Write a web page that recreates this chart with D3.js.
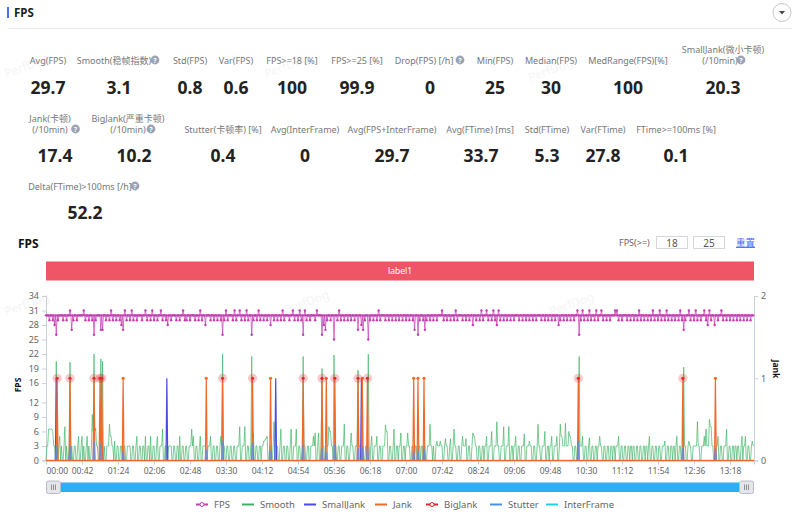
<!DOCTYPE html>
<html>
<head>
<meta charset="utf-8">
<script src="https://cdn.jsdelivr.net/npm/d3@7"></script>
<style>
body { margin: 0; background: #fff; }
svg { display: block; font-family: "Noto Sans", "Noto Sans CJK SC", sans-serif; }
</style>
</head>
<body>
<div id="chart"></div>
<script>
// one sample per second, one row = 42s
var fpsValues = [
30,30,30,30,29,30,30,30,29,30,28,30,26,30,29,30,30,30,30,30,29,30,30,30,29,30,30,30,31,30,27,30,29,30,30,30,29,30,30,30,30,30,
30,30,31,30,29,30,30,30,29,30,30,30,29,30,26,30,29,30,30,30,30,30,27,30,27,30,30,30,29,30,30,30,29,30,31,30,29,30,30,30,29,30,
30,30,29,30,28,30,27,30,31,30,29,30,30,30,29,30,31,30,29,30,30,30,29,30,30,30,30,30,29,30,30,30,31,30,29,30,30,30,29,30,31,30,
29,30,30,30,29,30,30,30,31,30,29,30,30,30,29,30,28,30,30,30,29,30,30,30,30,30,29,30,30,30,29,30,30,30,31,30,29,30,29,30,30,30,
29,30,30,30,30,30,29,30,30,30,29,30,31,30,29,30,30,30,28,30,30,30,30,30,29,30,30,30,29,30,30,30,29,30,30,30,29,30,26,30,29,30,
31,30,29,30,30,30,30,30,29,30,31,30,29,30,30,30,31,30,29,30,30,30,29,30,31,30,29,30,30,30,26,30,29,30,30,30,29,30,31,30,29,30,
30,30,29,30,30,30,29,30,30,30,28,30,30,30,29,30,30,30,29,30,30,30,29,30,31,30,29,30,30,30,30,30,29,30,30,30,31,30,29,30,30,30,
29,30,31,30,29,30,26,30,31,30,29,30,30,30,29,30,30,30,30,30,29,30,31,30,30,30,30,30,26,30,28,30,27,30,29,30,30,30,29,30,30,30,
25,30,30,30,29,30,31,30,29,30,30,30,29,30,30,30,29,30,30,30,29,30,30,30,29,30,30,30,27,30,30,30,28,30,27,30,29,30,30,30,25,30,
29,30,30,30,29,30,30,30,29,30,31,30,29,30,30,30,30,30,29,30,30,30,29,30,30,30,29,30,30,30,29,30,30,30,29,30,30,30,29,30,30,30,
29,30,30,30,29,30,30,30,29,30,27,30,30,30,26,30,29,30,30,30,29,30,27,30,29,30,30,30,29,30,30,30,29,30,30,30,29,30,30,30,30,30,
31,30,29,30,30,30,29,30,30,30,29,30,30,30,29,30,31,30,29,30,30,30,30,30,29,30,30,30,29,30,30,30,29,30,30,30,28,30,30,30,29,30,
30,30,29,30,31,30,29,30,30,30,31,30,29,30,30,30,29,30,31,30,29,30,28,30,31,30,29,30,30,30,29,30,30,30,29,30,30,30,29,30,30,30,
29,30,30,30,30,30,29,30,30,30,29,30,30,30,29,30,30,30,29,30,30,30,29,30,30,30,29,30,30,30,30,30,29,30,30,30,29,30,30,30,29,30,
30,30,29,30,30,30,29,30,30,30,28,30,29,30,30,30,29,30,30,30,29,30,30,30,29,30,30,30,29,30,30,30,31,30,26,30,29,30,31,30,29,30,
30,30,29,30,31,30,29,30,30,30,29,30,31,30,29,30,30,30,31,30,29,30,30,30,29,30,30,30,29,30,30,30,30,30,31,30,31,30,29,30,30,30,
29,30,30,30,30,30,29,30,30,30,29,30,30,30,29,30,30,30,29,30,31,30,29,30,30,30,29,30,30,30,29,30,30,30,29,30,31,30,29,30,30,30,
29,30,31,30,29,30,30,30,29,30,31,30,29,30,30,30,29,30,30,30,29,30,30,30,29,30,31,30,29,30,27,30,29,30,30,30,31,30,29,30,30,30,
29,30,31,30,29,30,30,30,29,30,30,30,31,30,29,30,28,30,31,30,29,30,30,30,28,30,30,30,29,30,30,30,31,30,29,30,30,30,29,30,30,30,
29,30,30,30,29,30,30,30,29,30,30,30,29,30,30,30,29,30,30,30,29,30,30,30,29,30,30,30
];
var smoothValues = [
0,3,3,6.5,6.5,6.5,6.5,6.5,6,3,3,0,20.5,0,0,3,5,0,3,0,0,3,7,0,3,0,0,3,20.3,0,3,0,0,3,3,0,0,3,5,0,0,3,
5,0,3,0,0,3,5,0,3,0,0,3,9.5,6,22,6,6.7,3,3,0,0,3,21,3,20.5,0,3,0,0,3,3,3,7.5,5,5,3,3,0,4,0,0,3,
3,0,0,3,3,0,0,3,3,0,0,3,3,3,3,0,0,3,3,0,0,3,5,0,0,3,3,0,0,3,3,0,5,0,0,3,3,0,5,0,0,3,
3,0,0,3,5,0,0,3,3,3,6.5,0,0,3,3,0,0,3,3,3,3,0,0,3,3,0,0,3,3,0,5,0,0,3,3,0,0,3,3,0,0,3,
3,3,6.5,3,5,0,0,3,3,0,0,3,5,0,0,3,3,3,3,0,0,3,3,3,5,0,0,3,3,0,0,3,3,0,0,3,5,3,22,3,3,0,
0,3,3,0,0,3,3,0,0,3,3,0,0,3,3,3,7,0,0,3,3,3,7,0,0,3,3,0,0,3,21.5,3,5.7,0,0,3,3,0,0,3,3,0,
3,3,4,4,4.5,4.5,5,0,0,3,3,0,0,3,8,0,0,3,3,0,0,3,6.5,0,0,3,3,0,0,3,3,0,0,3,6.5,0,0,3,3,3,6.5,0,
0,3,3,0,0,3,21.5,3,3,0,0,3,3,0,0,3,3,3,5,3,5.7,0,0,3,5.7,0,0,3,19,3,3,0,0,3,3,3,7,6,6,3,3,0,
21.8,3,3,0,0,3,3,0,0,3,3,3,7.5,0,0,3,3,0,0,3,5.7,3,3,0,0,3,3,3,18.7,3,3,0,0,3,3,0,0,3,3,3,22,3,
0,3,5,0,0,3,3,3,5,0,0,3,3,0,0,3,3,3,7.3,6,6,0,0,3,3,0,0,3,6.5,0,0,3,3,0,3,3,5.7,0,0,3,3,0,
3,3,5.7,3,3,0,0,3,3,0,0,3,3,0,0,3,3,0,3,3,0,3,3,0,0,3,3,3,7.5,3,3,0,3,0,0,3,4,3,3,3,4,3,
3,0,0,3,4.5,3,3,0,0,3,4.5,0,0,3,6.5,3,3,0,0,3,3,0,0,3,5,3,3,3,4.5,0,0,3,3,0,0,3,5.7,5,5,3,3,0,
0,3,3,0,0,3,3,0,3,3,5,0,0,3,3,3,6,0,0,3,3,3,8,3,3,0,0,3,3,3,7,0,0,3,3,3,7,0,0,3,3,0,
3,3,5,0,0,3,3,0,0,3,3,3,5.5,0,0,3,3,3,4,3,3,0,0,3,3,0,0,3,7.5,3,3,0,0,3,3,3,6,0,0,3,3,0,
3,3,5,0,0,3,3,3,5,0,0,3,7.5,5,5,3,3,3,7.7,3,3,3,6,5,5,3,3,0,0,3,3,0,0,3,21.5,3,3,3,5,0,0,3,
3,0,0,3,4.7,0,0,3,3,0,0,3,3,0,3,3,5,3,3,0,0,3,3,0,0,3,3,0,0,3,3,0,3,3,0,3,3,3,5,0,0,3,
3,0,0,3,3,0,0,3,3,0,3,3,0,3,3,0,0,3,3,0,0,3,3,0,0,3,3,0,3,3,0,3,5,0,0,3,3,0,0,3,3,0,
0,3,3,0,0,3,3,3,4,0,0,3,3,0,0,3,3,0,3,3,0,3,5,0,0,3,3,0,0,3,19.3,3,3,0,0,3,4,3,3,0,0,3,
3,3,3,3,8,3,3,0,0,3,3,3,5,3,6.5,3,3,3,8.5,7,7,3,3,0,0,3,3,3,5,0,0,3,3,0,0,3,3,3,6.5,0,0,3,
3,0,0,3,3,0,3,3,0,3,3,0,0,3,5,0,3,3,5,0,0,3,3,0,0,3,4,3
];
// seconds at which each jank type fired, all of them reach 1 on the right axis
var smallJankTimes = [12, 141, 268, 368];
var jankTimes = [90, 187, 262, 327, 369, 429, 434, 441, 781];
var bigJankTimes = [13, 28, 56, 63, 65, 206, 241, 300, 322, 337, 364, 375, 621, 743];
var stutterTimes = [12, 28, 56, 64, 90, 187, 206, 241, 262, 300, 322, 327, 337, 364, 369, 375, 429, 434, 441, 621, 743, 781];
var stutterValues = [3, 3, 4, 3.5, 2, 2.3, 4, 3.5, 2, 3.3, 2.5, 1.8, 3.3, 2.5, 2.5, 3, 2, 2, 2.3, 4, 2.7, 2.5];

var fpsTicks = [0, 3, 6, 9, 12, 16, 19, 22, 25, 28, 31, 34];
var jankTicks = [0, 1, 2];
var timeTicks = [0, 42, 84, 126, 168, 210, 252, 294, 336, 378, 420, 462, 504, 546, 588, 630, 672, 714, 756, 798];

var metricNames = ["Avg(FPS)", "Smooth(稳帧指数)", "Std(FPS)", "Var(FPS)", "FPS>=18 [%]", "FPS>=25 [%]", "Drop(FPS) [/h]", "Min(FPS)", "Median(FPS)", "MedRange(FPS)[%]", "(/10min)",
    "(/10min)", "(/10min)", "Stutter(卡顿率) [%]", "Avg(InterFrame)", "Avg(FPS+InterFrame)", "Avg(FTime) [ms]", "Std(FTime)", "Var(FTime)", "FTime>=100ms [%]",
    "Delta(FTime)>100ms [/h]"];
var metricValues = ["29.7", "3.1", "0.8", "0.6", "100", "99.9", "0", "25", "30", "100", "20.3",
    "17.4", "10.2", "0.4", "0", "29.7", "33.7", "5.3", "27.8", "0.1",
    "52.2"];
var metricLabelX = [48, 114, 190, 236, 292, 357, 424, 495, 551, 628, 720,
    50, 128, 223, 305, 392, 480, 547, 603, 676,
    80];
var metricValueX = [48, 119, 190, 236, 292, 357, 430, 495, 551, 628, 723,
    55, 134, 223, 305, 392, 481, 547, 603, 676,
    85];
var metricRowY = [64, 64, 64, 64, 64, 64, 64, 64, 64, 64, 64,
    132.5, 132.5, 132.5, 132.5, 132.5, 132.5, 132.5, 132.5, 132.5,
    189.5];
var valueRowY = [93.5, 93.5, 93.5, 93.5, 93.5, 93.5, 93.5, 93.5, 93.5, 93.5, 93.5,
    162, 162, 162, 162, 162, 162, 162, 162, 162,
    219];
var helpIcons = [[155, 60], [460, 60], [741, 60], [75.5, 129], [151, 129], [135, 186]];

var legendNames = ["FPS", "Smooth", "SmallJank", "Jank", "BigJank", "Stutter", "InterFrame"];
var legendColors = ["#c53db5", "#3cb563", "#4b4be6", "#f0692b", "#e5262a", "#4a90f0", "#1fd0e8"];
var legendX = [196, 242, 304, 375, 426, 490, 546];

var width = 800, height = 514;
var plotLeft = 46, plotRight = 754, plotTop = 296, plotBottom = 460.5;

var svg = d3.select("#chart").append("svg").attr("width", width).attr("height", height);

var x = d3.scaleLinear().domain([0, 826]).range([plotLeft, plotRight]);
var yFps = d3.scaleLinear().domain([0, 34]).range([plotBottom, plotTop]);
var yJank = d3.scaleLinear().domain([0, 2]).range([plotBottom, plotTop]);

function fmtTime(s) {
    return d3.format("02d")(Math.floor(s / 60)) + ":" + d3.format("02d")(s % 60);
}

function helpIcon(p) {
    svg.append("circle").attr("cx", p[0]).attr("cy", p[1]).attr("r", 4.4).attr("fill", "#9aa3b5");
    svg.append("text").attr("x", p[0]).attr("y", p[1] + 2.5).attr("text-anchor", "middle")
        .attr("font-size", 7).attr("font-weight", "bold").attr("fill", "#fff").text("?");
}

// watermarks
[[28, 70], [288, 70], [552, 74], [28, 308], [308, 306], [573, 308]].forEach(function (p) {
    svg.append("text").attr("transform", "translate(" + p[0] + "," + p[1] + ") rotate(-20)")
        .attr("text-anchor", "middle").attr("font-size", 12).attr("fill", "#000").attr("opacity", 0.04).text("PerfDog");
});

// header
svg.append("rect").attr("x", 7).attr("y", 7).attr("width", 2).attr("height", 11).attr("fill", "#4a6cf7");
svg.append("text").attr("x", 14).attr("y", 16.5).attr("font-size", 11.5).attr("font-weight", "bold").attr("fill", "#222").text("FPS");
svg.append("line").attr("x1", 8).attr("x2", 792).attr("y1", 28.5).attr("y2", 28.5).attr("stroke", "#e8eaf0");
svg.append("circle").attr("cx", 782).attr("cy", 12.5).attr("r", 9).attr("fill", "#fff").attr("stroke", "#c4c8d4");
svg.append("path").attr("d", "M779,11 L785,11 L782,14.5 Z").attr("fill", "#444");

// metric block
metricNames.forEach(function (name, i) {
    svg.append("text").attr("x", metricLabelX[i]).attr("y", metricRowY[i]).attr("text-anchor", "middle")
        .attr("font-size", 9).attr("fill", "#777").text(name);
    svg.append("text").attr("x", metricValueX[i]).attr("y", valueRowY[i]).attr("text-anchor", "middle")
        .attr("font-size", 17.5).attr("font-weight", "bold").attr("fill", "#222").text(metricValues[i]);
});
// two line labels
svg.append("text").attr("x", 723).attr("y", 53).attr("text-anchor", "middle").attr("font-size", 9).attr("fill", "#777").text("SmallJank(微小卡顿)");
svg.append("text").attr("x", 50).attr("y", 121.5).attr("text-anchor", "middle").attr("font-size", 9).attr("fill", "#777").text("Jank(卡顿)");
svg.append("text").attr("x", 128).attr("y", 121.5).attr("text-anchor", "middle").attr("font-size", 9).attr("fill", "#777").text("BigJank(严重卡顿)");
helpIcons.forEach(helpIcon);

// chart header
svg.append("text").attr("x", 18).attr("y", 248).attr("font-size", 12).attr("font-weight", "bold").attr("fill", "#111").text("FPS");
svg.append("text").attr("x", 619).attr("y", 246).attr("font-size", 9).attr("fill", "#666").text("FPS(>=)");
[[656, "18"], [693, "25"]].forEach(function (b) {
    svg.append("rect").attr("x", b[0] + 0.5).attr("y", 236.5).attr("width", 31).attr("height", 12).attr("fill", "#fff").attr("stroke", "#d4d7de");
    svg.append("text").attr("x", b[0] + 16).attr("y", 246.5).attr("text-anchor", "middle").attr("font-size", 10).attr("fill", "#555").text(b[1]);
});
svg.append("text").attr("x", 736).attr("y", 246).attr("font-size", 9.5).attr("fill", "#4a6cf7").attr("text-decoration", "underline").text("重置");

// label band
svg.append("rect").attr("x", plotLeft).attr("y", 261.5).attr("width", plotRight - plotLeft).attr("height", 19).attr("fill", "#ee5565");
svg.append("text").attr("x", (plotLeft + plotRight) / 2).attr("y", 274).attr("text-anchor", "middle").attr("font-size", 8.5).attr("fill", "#fff").text("label1");

// axes
function styleAxis(g) {
    g.selectAll("path, line").attr("stroke", "#c8cfdc");
    g.selectAll("text").attr("fill", "#666").attr("font-size", 9)
        .attr("font-family", '"Noto Sans", sans-serif');
}
svg.append("g").attr("transform", "translate(" + plotLeft + ",0)")
    .call(d3.axisLeft(yFps).tickValues(fpsTicks).tickSize(4).tickPadding(3).tickFormat(d3.format("d")))
    .call(styleAxis);
svg.append("g").attr("transform", "translate(" + plotRight + ",0)")
    .call(d3.axisRight(yJank).tickValues(jankTicks).tickSize(4).tickPadding(3).tickFormat(d3.format("d")))
    .call(styleAxis);
var xAxis = svg.append("g").attr("transform", "translate(0," + plotBottom + ")")
    .call(d3.axisBottom(x).tickValues(timeTicks).tickSize(4).tickPadding(3).tickFormat(fmtTime))
    .call(styleAxis);
xAxis.selectAll("text").attr("font-size", 8.5);
xAxis.selectAll("text").filter(function (d) { return d === 0; }).attr("text-anchor", "start");

svg.append("text").attr("transform", "translate(21,385) rotate(-90)").attr("text-anchor", "middle")
    .attr("font-size", 8.5).attr("font-weight", "bold").attr("fill", "#111").text("FPS");
svg.append("text").attr("transform", "translate(773,369) rotate(90)").attr("text-anchor", "middle")
    .attr("font-size", 8.5).attr("font-weight", "bold").attr("fill", "#111").text("Jank");

// series
var seriesLine = d3.line().x(function (d) { return x(d[0]); }).y(function (d) { return d[1]; });

function spikes(times, heights, scale) {
    var pts = [[0, scale(0)]];
    times.forEach(function (t, i) {
        var h = heights ? heights[i] : 1;
        pts.push([t - 1, scale(0)], [t, scale(h)], [t + 1, scale(0)]);
    });
    pts.push([826, scale(0)]);
    return pts;
}

svg.append("path").attr("fill", "none").attr("stroke", "#3cb563").attr("stroke-width", 0.9).attr("stroke-opacity", 0.75)
    .attr("d", seriesLine(smoothValues.map(function (v, i) { return [i, yFps(v)]; })));

svg.append("path").attr("fill", "none").attr("stroke", "#4b4be6").attr("stroke-width", 1.2)
    .attr("d", seriesLine(spikes(smallJankTimes, null, yJank)));
svg.append("path").attr("fill", "none").attr("stroke", "#f0692b").attr("stroke-width", 1.2)
    .attr("d", seriesLine(spikes(jankTimes.concat(bigJankTimes).sort(d3.ascending), null, yJank)));
svg.append("path").attr("fill", "none").attr("stroke", "#4a90f0").attr("stroke-width", 1.6).attr("stroke-opacity", 0.75)
    .attr("d", seriesLine(spikes(stutterTimes, stutterValues, yFps)));
svg.append("line").attr("x1", plotLeft).attr("x2", plotRight).attr("y1", plotBottom).attr("y2", plotBottom)
    .attr("stroke", "#f0692b").attr("stroke-width", 1.2);

svg.selectAll(".jank-dot").data(jankTimes).enter().append("circle").attr("class", "jank-dot")
    .attr("cx", function (d) { return x(d); }).attr("cy", yJank(1)).attr("r", 1.6).attr("fill", "#f0692b");
svg.selectAll(".big-halo").data(bigJankTimes).enter().append("circle").attr("class", "big-halo")
    .attr("cx", function (d) { return x(d); }).attr("cy", yJank(1)).attr("r", 4.6).attr("fill", "#e5262a").attr("fill-opacity", 0.25);
svg.selectAll(".big-dot").data(bigJankTimes).enter().append("circle").attr("class", "big-dot")
    .attr("cx", function (d) { return x(d); }).attr("cy", yJank(1)).attr("r", 1.6).attr("fill", "#e5262a");

svg.append("path").attr("fill", "none").attr("stroke", "#c53db5").attr("stroke-width", 0.9).attr("stroke-opacity", 0.8)
    .attr("d", seriesLine(fpsValues.map(function (v, i) { return [i, yFps(v)]; })));
svg.selectAll(".fps-dot").data(fpsValues).enter().append("circle").attr("class", "fps-dot")
    .attr("cx", function (d, i) { return x(i); }).attr("cy", function (d) { return yFps(d); })
    .attr("r", 1.2).attr("fill", "#c53db5");

// data zoom slider
svg.append("rect").attr("x", plotLeft).attr("y", 482.5).attr("width", plotRight - plotLeft).attr("height", 9.5).attr("rx", 2).attr("fill", "#2eaef6");
[plotLeft, plotRight - 15].forEach(function (hx) {
    svg.append("rect").attr("x", hx + 0.5).attr("y", 481).attr("width", 14).attr("height", 12.5).attr("rx", 2)
        .attr("fill", "#e4e6ea").attr("stroke", "#b8bcc4");
    [-2, 0, 2].forEach(function (dx) {
        svg.append("line").attr("x1", hx + 7.5 + dx).attr("x2", hx + 7.5 + dx).attr("y1", 484.5).attr("y2", 490)
            .attr("stroke", "#777").attr("stroke-width", 0.8);
    });
});

// legend
legendNames.forEach(function (name, i) {
    var lx = legendX[i];
    svg.append("line").attr("x1", lx).attr("x2", lx + 12).attr("y1", 504.5).attr("y2", 504.5)
        .attr("stroke", legendColors[i]).attr("stroke-width", 2);
    if (name === "FPS" || name === "BigJank") {
        svg.append("circle").attr("cx", lx + 6).attr("cy", 504.5).attr("r", 2).attr("fill", "#fff")
            .attr("stroke", legendColors[i]).attr("stroke-width", 1);
    }
    svg.append("text").attr("x", lx + 18).attr("y", 508).attr("font-size", 9.5).attr("fill", "#666").text(name);
});
</script>
</body>
</html>
